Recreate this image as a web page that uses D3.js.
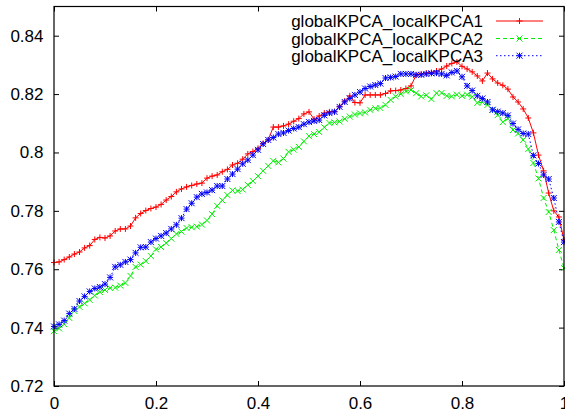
<!DOCTYPE html>
<html>
<head>
<meta charset="utf-8">
<script src="https://cdn.jsdelivr.net/npm/d3@7"></script>
<style>
  html, body { margin: 0; padding: 0; background: #fff; }
  svg { display: block; }
  text { font-family: "Liberation Sans", Arial, Helvetica, sans-serif; font-size: 17px; fill: #000; }
</style>
</head>
<body>
<svg id="chart" width="565" height="412"></svg>
<script>
// ---- data ----
const seriesNames = ["globalKPCA_localKPCA1", "globalKPCA_localKPCA2", "globalKPCA_localKPCA3"];
const xValues = d3.range(0, 101).map(i => i / 100); // sampling grid 0, 0.01, ..., 1

const series1 = [
  0.7623,0.7625,0.7633,0.7642,0.7652,0.7659,0.7673,0.7681,0.7702,0.7709,
  0.7707,0.7714,0.7731,0.7738,0.7738,0.7748,0.7776,0.7791,0.7801,0.7808,
  0.7813,0.7822,0.7837,0.7849,0.7865,0.7875,0.7882,0.7887,0.7892,0.7895,
  0.7912,0.7919,0.7923,0.7934,0.7942,0.7957,0.7963,0.7977,0.7995,0.8003,
  0.8014,0.8031,0.8043,0.8087,0.8087,0.8091,0.8097,0.8107,0.8116,0.8132,
  0.8139,0.8114,0.8125,0.8135,0.8139,0.8140,0.8158,0.8176,0.8194,0.8171,
  0.8170,0.8197,0.8197,0.8197,0.8197,0.8202,0.8211,0.8212,0.8214,0.8219,
  0.8228,0.8265,0.8269,0.8272,0.8274,0.8279,0.8286,0.8296,0.8305,0.8310,
  0.8295,0.8286,0.8276,0.8262,0.8245,0.8272,0.8252,0.8238,0.8230,0.8217,
  0.8190,0.8173,0.8149,0.8118,0.8067,0.7991,0.7937,0.7861,0.7800,0.7779,
  0.7700
];
const series2 = [
  0.7388,0.7397,0.7412,0.7433,0.7457,0.7471,0.7483,0.7495,0.7510,0.7522,
  0.7529,0.7536,0.7537,0.7544,0.7553,0.7577,0.7608,0.7616,0.7628,0.7645,
  0.7668,0.7676,0.7690,0.7705,0.7721,0.7729,0.7741,0.7744,0.7746,0.7753,
  0.7767,0.7789,0.7817,0.7836,0.7854,0.7870,0.7868,0.7873,0.7889,0.7902,
  0.7919,0.7937,0.7954,0.7971,0.7966,0.7979,0.8002,0.8010,0.8019,0.8038,
  0.8056,0.8063,0.8070,0.8086,0.8101,0.8103,0.8106,0.8115,0.8123,0.8130,
  0.8134,0.8137,0.8146,0.8151,0.8152,0.8163,0.8180,0.8192,0.8200,0.8209,
  0.8214,0.8203,0.8192,0.8196,0.8183,0.8203,0.8204,0.8194,0.8192,0.8198,
  0.8194,0.8198,0.8191,0.8170,0.8172,0.8163,0.8146,0.8128,0.8104,0.8116,
  0.8077,0.8065,0.8043,0.8012,0.7964,0.7911,0.7844,0.7796,0.7734,0.7666,
  0.7604
];
const series3 = [
  0.7404,0.7411,0.7424,0.7448,0.7464,0.7491,0.7507,0.7524,0.7534,0.7539,
  0.7549,0.7572,0.7608,0.7615,0.7625,0.7633,0.7656,0.7675,0.7676,0.7693,
  0.7705,0.7714,0.7724,0.7738,0.7752,0.7775,0.7806,0.7826,0.7847,0.7858,
  0.7863,0.7871,0.7885,0.7885,0.7909,0.7926,0.7943,0.7961,0.7974,0.7991,
  0.8009,0.8029,0.8043,0.8051,0.8063,0.8067,0.8075,0.8082,0.8087,0.8097,
  0.8104,0.8108,0.8111,0.8127,0.8135,0.8139,0.8156,0.8173,0.8185,0.8197,
  0.8207,0.8219,0.8226,0.8231,0.8236,0.8255,0.8257,0.8260,0.8269,0.8269,
  0.8269,0.8266,0.8266,0.8269,0.8271,0.8272,0.8269,0.8264,0.8274,0.8279,
  0.8259,0.8228,0.8212,0.8194,0.8185,0.8173,0.8146,0.8140,0.8135,0.8127,
  0.8099,0.8079,0.8065,0.8063,0.7990,0.7962,0.7923,0.7909,0.7844,0.7762,
  0.7693
];
const xTicks = [0, 0.2, 0.4, 0.6, 0.8, 1];
const xTickLabels = ["0", "0.2", "0.4", "0.6", "0.8", "1"];
const yTicks = [0.72, 0.74, 0.76, 0.78, 0.80, 0.82, 0.84];
const yTickLabels = ["0.72", "0.74", "0.76", "0.78", "0.8", "0.82", "0.84"];

// ---- styles ----
const styles = [
  { color: "#ff0000", dash: null,  marker: "plus" },
  { color: "#00ee00", dash: "4,3", marker: "cross" },
  { color: "#0000ff", dash: "1.5,2.5", marker: "star" }
];
const MK = 3;
const markerPaths = {
  plus:  `M${-MK},0H${MK}M0,${-MK}V${MK}`,
  cross: `M${-MK},${-MK}L${MK},${MK}M${-MK},${MK}L${MK},${-MK}`,
  star:  `M${-MK},0H${MK}M0,${-MK}V${MK}M${-MK},${-MK}L${MK},${MK}M${-MK},${MK}L${MK},${-MK}`
};

// ---- layout ----
const plotL = 54, plotR = 564, plotT = 6.5, plotB = 386;
const xScale = d3.scaleLinear().domain([0, 1]).range([plotL, plotR]);
const yScale = d3.scaleLinear().domain([0.72, 0.85]).range([plotB, plotT]);

const svg = d3.select("#chart");

// axes (gnuplot style: inward ticks on all sides, mirrored)
const tickLen = 5;
const yLeft = svg.append("g").attr("transform", `translate(${plotL},0)`)
  .call(d3.axisLeft(yScale).tickValues(yTicks).tickSizeInner(-tickLen).tickSizeOuter(0)
    .tickPadding(10.5).tickFormat((d, i) => yTickLabels[i]));
const yRight = svg.append("g").attr("transform", `translate(${plotR},0)`)
  .call(d3.axisRight(yScale).tickValues(yTicks).tickSizeInner(-tickLen).tickSizeOuter(0).tickFormat(""));
const xBottom = svg.append("g").attr("transform", `translate(0,${plotB})`)
  .call(d3.axisBottom(xScale).tickValues(xTicks).tickSizeInner(-tickLen).tickSizeOuter(0)
    .tickPadding(11).tickFormat((d, i) => xTickLabels[i]));
const xTop = svg.append("g").attr("transform", `translate(0,${plotT})`)
  .call(d3.axisTop(xScale).tickValues(xTicks).tickSizeInner(-tickLen).tickSizeOuter(0).tickFormat(""));

[yLeft, yRight, xBottom, xTop].forEach(g => {
  g.select(".domain").remove();
  g.selectAll("line").attr("stroke", "#000").attr("stroke-width", 1);
  g.selectAll("text").attr("font-family", "Liberation Sans, Arial, sans-serif")
    .attr("font-size", 17).attr("fill", "#000");
});

// series
const allSeries = [series1, series2, series3];
const lineGen = d3.line().x((d, i) => xScale(xValues[i])).y(d => yScale(d));

allSeries.forEach((vals, k) => {
  const st = styles[k];
  const g = svg.append("g");
  g.append("path").datum(vals)
    .attr("d", lineGen)
    .attr("fill", "none")
    .attr("stroke", st.color)
    .attr("stroke-width", 1)
    .attr("stroke-dasharray", st.dash);
  g.selectAll("path.mk").data(vals).join("path")
    .attr("class", "mk")
    .attr("d", markerPaths[st.marker])
    .attr("transform", (d, i) => `translate(${xScale(xValues[i])},${yScale(d)})`)
    .attr("fill", "none")
    .attr("stroke", st.color)
    .attr("stroke-width", 1);
});

// border
svg.append("rect")
  .attr("x", plotL).attr("y", plotT)
  .attr("width", plotR - plotL).attr("height", plotB - plotT)
  .attr("fill", "none").attr("stroke", "#000").attr("stroke-width", 1.2);

// legend
const legend = svg.append("g");
const legY = [21, 38.5, 55.7];
const legTextX = 483, legLineX1 = 496, legLineX2 = 543;
seriesNames.forEach((name, k) => {
  const st = styles[k];
  legend.append("text")
    .attr("x", legTextX).attr("y", legY[k] + 6)
    .attr("text-anchor", "end")
    .text(name);
  legend.append("line")
    .attr("x1", legLineX1).attr("x2", legLineX2)
    .attr("y1", legY[k]).attr("y2", legY[k])
    .attr("stroke", st.color).attr("stroke-width", 1)
    .attr("stroke-dasharray", st.dash);
  legend.append("path")
    .attr("d", markerPaths[st.marker])
    .attr("transform", `translate(${(legLineX1 + legLineX2) / 2},${legY[k]})`)
    .attr("fill", "none").attr("stroke", st.color).attr("stroke-width", 1);
});
</script>
</body>
</html>
